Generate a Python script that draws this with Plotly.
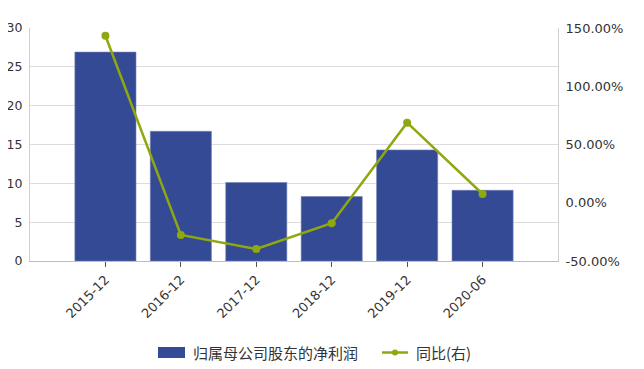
import plotly.graph_objects as go

categories = ["2015-12", "2016-12", "2017-12", "2018-12", "2019-12", "2020-06"]
net_profit = [26.9, 16.7, 10.1, 8.3, 14.3, 9.1]
yoy_pct = [143.4, -27.7, -39.7, -17.6, 68.7, 7.5]
left_ticks = [0, 5, 10, 15, 20, 25, 30]
right_ticks = [-50, 0, 50, 100, 150]
right_tick_labels = ["-50.00%", "0.00%", "50.00%", "100.00%", "150.00%"]
bar_name = "归属母公司股东的净利润"
line_name = "同比(右)"

PAGE_W, PAGE_H = 644, 369
OFF = 8  # default body margin of the page
W, H = PAGE_W - OFF, PAGE_H - OFF
L, R, T, B = 30, 558, 28, 261  # plot area in page pixels

BAR_COLOR = "#344a94"
LINE_COLOR = "#8fa80f"
TXT = "#333333"
TICK_FONT = dict(family="DejaVu Sans, Verdana, sans-serif", size=13, color=TXT)
LEFT_FONT = dict(family="DejaVu Sans, Verdana, sans-serif", size=12.5, color=TXT)
CJK = "Noto Sans CJK SC, sans-serif"

x_idx = list(range(len(categories)))

fig = go.Figure()
fig.add_trace(go.Bar(x=x_idx, y=net_profit, name=bar_name, marker=dict(color=BAR_COLOR, line=dict(color="#6f7fb5", width=0.6)),
                     width=0.81, yaxis="y", showlegend=False))
fig.add_trace(go.Scatter(x=x_idx, y=yoy_pct, name=line_name, mode="lines+markers",
                         line=dict(color=LINE_COLOR, width=2.5), marker=dict(color=LINE_COLOR, size=8),
                         yaxis="y2", showlegend=False))

def px_x(p):
    return (p - L) / (R - L)

def px_y(p):
    return (B - p) / (B - T)

shapes = [
    dict(type="rect", xref="paper", yref="paper", x0=px_x(158), x1=px_x(185), y0=px_y(358), y1=px_y(347),
         fillcolor=BAR_COLOR, line=dict(width=0)),
    dict(type="line", xref="paper", yref="paper", x0=px_x(382), x1=px_x(408), y0=px_y(352.5), y1=px_y(352.5),
         line=dict(color=LINE_COLOR, width=2.5)),
    dict(type="circle", xref="paper", yref="paper", x0=px_x(392), x1=px_x(398), y0=px_y(355.5), y1=px_y(349.5),
         fillcolor=LINE_COLOR, line=dict(width=0)),
]
annotations = [
    dict(xref="paper", yref="paper", x=px_x(191), y=px_y(352.5), text=bar_name, showarrow=False,
         xanchor="left", yanchor="middle", font=dict(family=CJK, size=15, color=TXT)),
    dict(xref="paper", yref="paper", x=px_x(414), y=px_y(352.5), text=line_name, showarrow=False,
         xanchor="left", yanchor="middle", font=dict(family=CJK, size=15, color=TXT)),
]

fig.update_layout(
    width=W, height=H,
    margin=dict(l=L - OFF, r=PAGE_W - R, t=T - OFF, b=PAGE_H - B, pad=0, autoexpand=False),
    paper_bgcolor="white", plot_bgcolor="white",
    shapes=shapes, annotations=annotations,
    xaxis=dict(range=[-1, 6], tickmode="array", tickvals=x_idx, ticktext=categories, tickangle=-45,
               showgrid=False, showline=True, linecolor="#bdbdbd", linewidth=1, automargin=False,
               ticks="outside", ticklen=5, tickcolor="#555555", tickfont=TICK_FONT, zeroline=False),
    yaxis=dict(range=[0, 30], tickmode="array", tickvals=left_ticks, showgrid=True, gridcolor="#dcdcdc", gridwidth=1,
               showline=True, linecolor="#d0d0d0", linewidth=1, ticks="", tickfont=LEFT_FONT, automargin=False,
               ticklabelstandoff=4, zeroline=False),
    yaxis2=dict(range=[-50, 150], overlaying="y", side="right", tickmode="array", tickvals=right_ticks,
                ticktext=right_tick_labels, showgrid=False, showline=True, linecolor="#d0d0d0", linewidth=1,
                ticks="", tickfont=TICK_FONT, ticklabelstandoff=4, zeroline=False, automargin=False),
)

fig.write_html("out.html")
